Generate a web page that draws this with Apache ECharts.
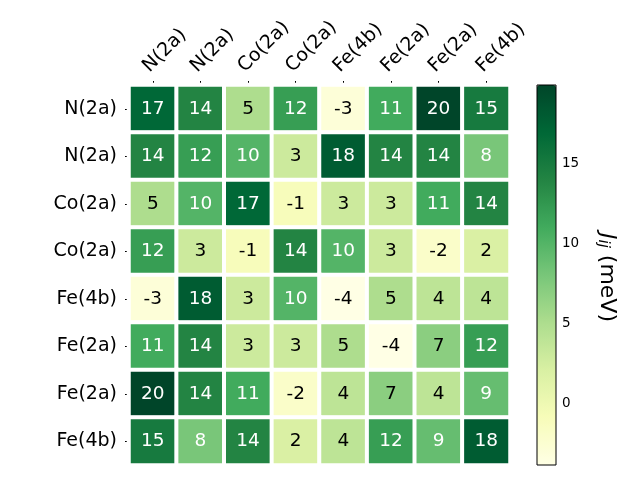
<!DOCTYPE html>
<html><head><meta charset="utf-8">
<script src="https://cdn.jsdelivr.net/npm/echarts@6/dist/echarts.min.js"></script>
<style>html,body{margin:0;padding:0;background:#fff}#c{width:640px;height:480px}</style>
</head><body><div id="c"></div>
<script>
const xLabels = ['N(2a)','N(2a)','Co(2a)','Co(2a)','Fe(4b)','Fe(2a)','Fe(2a)','Fe(4b)'];
const yLabels = ['N(2a)','N(2a)','Co(2a)','Co(2a)','Fe(4b)','Fe(2a)','Fe(2a)','Fe(4b)'];
const row0 = [17,14,5,12,-3,11,20,15];
const row1 = [14,12,10,3,18,14,14,8];
const row2 = [5,10,17,-1,3,3,11,14];
const row3 = [12,3,-1,14,10,3,-2,2];
const row4 = [-3,18,3,10,-4,5,4,4];
const row5 = [11,14,3,3,5,-4,7,12];
const row6 = [20,14,11,-2,4,7,4,9];
const row7 = [15,8,14,2,4,12,9,18];
const rows = [row0,row1,row2,row3,row4,row5,row6,row7];
const cbMin = -3.86, cbMax = 19.94;
const cbTicks = [0,5,10,15];
const YlGn = ['#ffffe5','#f7fcb9','#d9f0a3','#addd8e','#78c679','#41ab5d','#238443','#006837','#004529'];

const data = [];
rows.forEach((r, yi) => r.forEach((v, xi) => {
  data.push({value: [xi, yi, v], label: {color: v > 7.5 ? '#ffffff' : '#000000'}});
}));
const FONT = 'DejaVu Sans';
const chart = echarts.init(document.getElementById('c'), null, {renderer: 'canvas'});
chart.setOption({
  animation: false,
  backgroundColor: '#fff',
  textStyle: {fontFamily: FONT},
  grid: [
    {left: 129, top: 85, width: 381, height: 380, containLabel: false},
    {left: 537, top: 85, width: 19, height: 380, show: true, borderColor: '#000', borderWidth: 1, backgroundColor: 'transparent', z: 10}
  ],
  xAxis: [
    {type: 'category', gridIndex: 0, position: 'top', data: xLabels.map((s,i)=>i+':'+s),
      axisLine: {show: false}, splitLine: {show: false},
      axisTick: {show: true, alignWithLabel: true, length: 4, lineStyle: {color: '#000'}},
      axisLabel: {rotate: -45, fontSize: 19, color: '#000', fontFamily: FONT, margin: 9,
        verticalAlign: 'bottom', formatter: (v, i) => xLabels[i]}},
    {type: 'value', gridIndex: 1, show: false, min: 0, max: 1}
  ],
  yAxis: [
    {type: 'category', gridIndex: 0, inverse: true, data: yLabels.map((s,i)=>i+':'+s),
      axisLine: {show: false}, splitLine: {show: false},
      axisTick: {show: true, alignWithLabel: true, length: 4, lineStyle: {color: '#000'}},
      axisLabel: {fontSize: 19, color: '#000', fontFamily: FONT, margin: 12,
        formatter: (v, i) => yLabels[i]}},
    {type: 'value', gridIndex: 1, position: 'right', min: cbMin, max: cbMax,
      axisLine: {show: false}, splitLine: {show: false},
      axisTick: {show: true, length: 4, lineStyle: {color: '#000'}, customValues: cbTicks},
      axisLabel: {fontSize: 13.5, color: '#000', fontFamily: FONT, margin: 6, customValues: cbTicks}}
  ],
  visualMap: {
    type: 'continuous', seriesIndex: 0, min: cbMin, max: cbMax,
    calculable: false, orient: 'vertical', left: 537, top: 85,
    itemWidth: 19, itemHeight: 380, padding: 0, text: null, showLabel: false,
    inRange: {color: YlGn}, hoverLink: false
  },
  series: [{
    type: 'heatmap', xAxisIndex: 0, yAxisIndex: 0, data: data,
    itemStyle: {borderColor: '#fff', borderWidth: 4},
    label: {show: true, fontSize: 18.5, fontFamily: FONT, formatter: p => String(p.value[2])},
    emphasis: {disabled: true}
  }],
  graphic: [{
    type: 'text', left: 595, top: 233,
    rotation: -Math.PI/2,
    style: {
      text: '{j|J}{s|ij}{n| (meV)}',
      fill: '#000',
      rich: {
        j: {fontSize: 22, fontStyle: 'italic', fontFamily: FONT, fill: '#000'},
        s: {fontSize: 15, fontStyle: 'italic', fontFamily: FONT, fill: '#000', verticalAlign: 'bottom', padding: [8,0,0,0]},
        n: {fontSize: 22, fontFamily: FONT, fill: '#000'}
      }
    }
  }]
});
</script></body></html>
